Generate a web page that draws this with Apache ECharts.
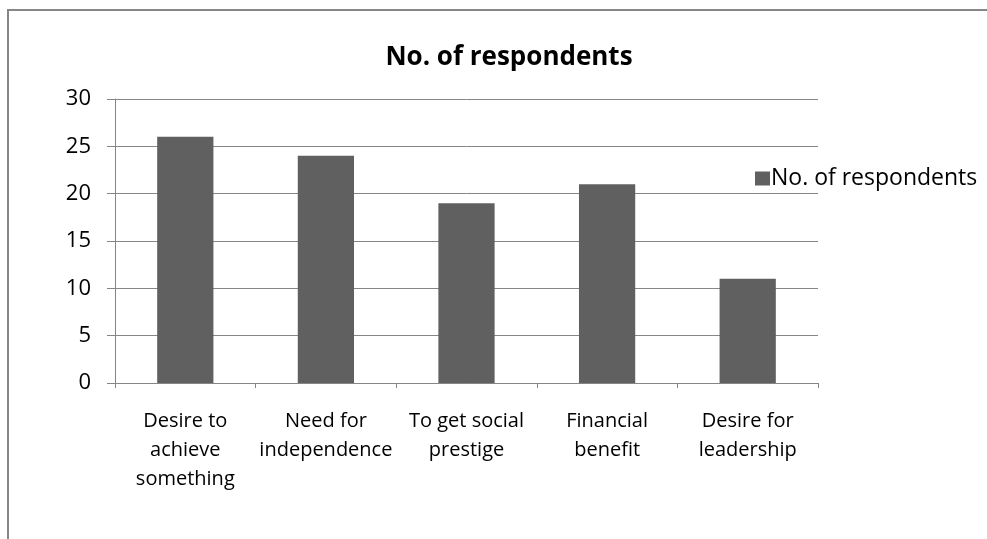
<!DOCTYPE html>
<html>
<head>
<meta charset="utf-8">
<script src="https://cdn.jsdelivr.net/npm/echarts@6/dist/echarts.min.js"></script>
<style>
  html, body { margin: 0; padding: 0; background: #fff; }
  #chart { width: 987px; height: 539px; }
</style>
</head>
<body>
<div id="chart"></div>
<script>
// Reasons for starting a business, by number of respondents
const categories = [
  'Desire to\nachieve\nsomething',
  'Need for\nindependence',
  'To get social\nprestige',
  'Financial\nbenefit',
  'Desire for\nleadership'
];
const respondents = [26, 24, 19, 21, 11];
const seriesName = 'No. of respondents';

const FONT = '"Open Sans", Lato, sans-serif';
const GRAY = '#868686';

const chart = echarts.init(document.getElementById('chart'));
chart.setOption({
  animation: false,
  backgroundColor: '#fff',
  textStyle: { fontFamily: FONT },
  title: {
    text: seriesName,
    left: 504,
    textAlign: 'center',
    top: 40,
    textStyle: { fontSize: 26, fontWeight: 'bold', color: '#000', fontFamily: FONT }
  },
  legend: {
    data: [seriesName],
    icon: 'rect',
    left: 750,
    top: 162,
    itemWidth: 15,
    itemHeight: 14,
    itemGap: 6,
    textStyle: { fontSize: 23, color: '#000', fontFamily: FONT, padding: [0, 0, 0, -4] }
  },
  graphic: [{
    type: 'rect',
    shape: { x: 8, y: 10, width: 1100, height: 700 },
    style: { fill: 'none', stroke: GRAY, lineWidth: 2 },
    silent: true
  }],
  grid: { left: 115, right: 169, top: 99, bottom: 156 },
  xAxis: {
    type: 'category',
    data: categories,
    axisLine: { lineStyle: { color: GRAY, width: 1 } },
    axisTick: { show: true, length: 5, lineStyle: { color: GRAY } },
    axisLabel: { color: '#000', fontSize: 20, lineHeight: 29, margin: 24, fontFamily: FONT, interval: 0 }
  },
  yAxis: {
    type: 'value',
    min: 0,
    max: 30,
    interval: 5,
    axisLine: { show: true, lineStyle: { color: GRAY, width: 1 } },
    axisTick: { show: true, length: 8, lineStyle: { color: GRAY } },
    splitLine: { lineStyle: { color: GRAY, width: 1 } },
    axisLabel: { color: '#000', fontSize: 22, margin: 24, fontFamily: FONT }
  },
  series: [{
    name: seriesName,
    type: 'bar',
    data: respondents,
    barWidth: '40%',
    itemStyle: { color: '#606060' }
  }]
});
</script>
</body>
</html>
